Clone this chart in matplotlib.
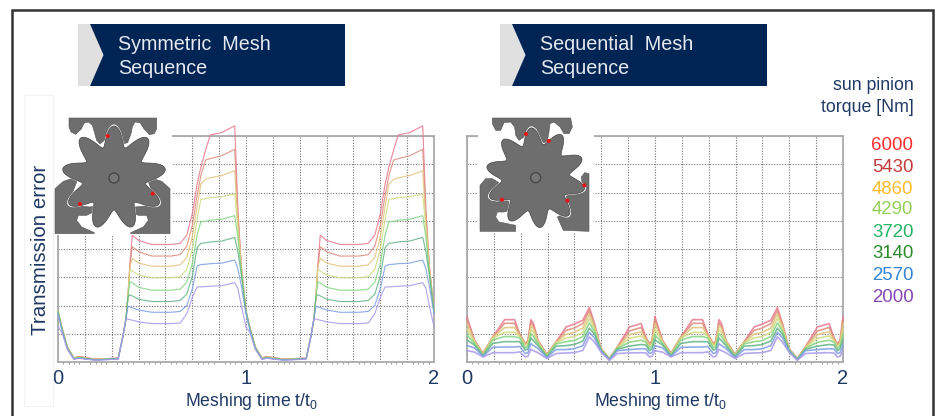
import numpy as np
import matplotlib
matplotlib.use('Agg')
import matplotlib.pyplot as plt
from matplotlib.patches import Polygon, Circle, Rectangle

plt.rcParams['font.family'] = ['Liberation Sans', 'DejaVu Sans']
plt.rcParams['mathtext.fontset'] = 'custom'
plt.rcParams['mathtext.rm'] = 'Liberation Sans'
plt.rcParams['mathtext.default'] = 'regular'

torque_labels = ['6000', '5430', '4860', '4290', '3720', '3140', '2570', '2000']
label_colors = ['#ff2b2b', '#c23a3a', '#ffb92a', '#93cf58', '#25b565', '#2a8c2a', '#3384d2', '#8446b4']
line_colors = ['#e8798f', '#dc8c7c', '#e2c47c', '#cfdc80', '#84d484', '#64b488', '#7f9fe2', '#a998ea']

# one period of the symmetric mesh, the second period repeats it
t_sym = [0, .02, .05, .085, .11, .2, .32, .345, .362, .372, .382, .395, .43, .50, .60, .65, .685,
         .715, .74, .76, .785, .81, .87, .94, .957, .975, 1.0]
sym_6000 = [1.80, 1.24, .53, .15, .20, .10, .14, .90, 1.55, 2.30, 3.40, 4.49, 4.30, 4.16, 4.16, 4.20, 4.49,
            5.26, 6.30, 6.90, 7.50, 8.04, 8.12, 8.36, 5.40, 3.40, 1.80]
sym_5430 = [1.80, 1.24, .53, .14, .19, .10, .14, .90, 1.55, 2.30, 3.40, 4.08, 3.90, 3.75, 3.75, 3.80, 4.10,
            4.85, 5.90, 6.60, 7.15, 7.20, 7.30, 7.53, 5.20, 3.40, 1.80]
sym_4860 = [1.80, 1.24, .53, .14, .18, .09, .13, .90, 1.55, 2.30, 3.40, 3.66, 3.50, 3.39, 3.39, 3.44, 3.70,
            4.45, 5.50, 6.30, 6.47, 6.52, 6.60, 6.77, 5.00, 3.35, 1.80]
sym_4290 = [1.80, 1.22, .52, .13, .17, .09, .13, .90, 1.55, 2.30, 3.27, 3.22, 3.08, 2.98, 2.98, 3.02, 3.28,
            4.00, 5.05, 5.76, 5.78, 5.82, 5.85, 5.95, 4.70, 3.30, 1.80]
sym_3720 = [1.80, 1.20, .50, .12, .16, .08, .12, .90, 1.55, 2.30, 2.84, 2.80, 2.64, 2.54, 2.54, 2.58, 2.82,
            3.50, 4.50, 4.96, 4.98, 5.02, 5.05, 5.18, 4.40, 3.20, 1.80]
sym_3140 = [1.78, 1.18, .48, .11, .15, .08, .12, .90, 1.55, 2.30, 2.38, 2.34, 2.22, 2.14, 2.14, 2.18, 2.40,
            3.05, 4.05, 4.20, 4.22, 4.25, 4.28, 4.41, 3.90, 3.10, 1.75]
sym_2570 = [1.72, 1.15, .46, .10, .14, .07, .11, .90, 1.55, 1.97, 1.95, 1.92, 1.84, 1.76, 1.76, 1.79, 2.00,
            2.60, 3.40, 3.45, 3.46, 3.48, 3.50, 3.61, 3.30, 2.70, 1.70]
sym_2000 = [1.25, 1.05, .44, .09, .13, .06, .10, .90, 1.54, 1.52, 1.50, 1.48, 1.42, 1.36, 1.36, 1.38, 1.71,
            2.30, 2.66, 2.66, 2.67, 2.68, 2.70, 2.81, 2.60, 2.00, 1.25]
sym_values = [sym_6000, sym_5430, sym_4860, sym_4290, sym_3720, sym_3140, sym_2570, sym_2000]

# one period of the sequential mesh
t_seq = [0, .04, .085, .138, .2, .253, .28, .31, .324, .34, .354, .377, .425, .474, .527, .57, .616, .651,
         .678, .713, .757, .80, .864, .926, .952, .97, .984, 1.0]
seq_6000 = [1.60, .77, .30, .89, 1.50, 1.50, 1.00, .65, .75, 1.50, 1.36, .77, .27, .71, 1.24, 1.34, 1.48, 1.93,
            1.36, .47, .12, .53, 1.24, 1.36, .86, .65, .75, 1.60]
seq_5430 = [1.50, .75, .30, .89, 1.37, 1.37, .98, .65, .72, 1.40, 1.27, .75, .27, .71, 1.12, 1.20, 1.36, 1.82,
            1.30, .47, .12, .53, 1.10, 1.22, .84, .62, .72, 1.50]
seq_4860 = [1.35, .73, .28, .87, 1.22, 1.22, .95, .62, .68, 1.28, 1.18, .73, .25, .70, .98, 1.05, 1.20, 1.70,
            1.25, .46, .12, .52, .97, 1.07, .80, .60, .68, 1.35]
seq_4290 = [1.15, .70, .26, .85, 1.05, 1.05, .92, .58, .62, 1.15, 1.05, .70, .23, .68, .85, .90, 1.05, 1.55,
            1.18, .45, .11, .50, .84, .92, .76, .55, .62, 1.15]
seq_3720 = [.95, .66, .24, .78, .90, .90, .85, .50, .55, 1.00, .90, .65, .21, .64, .72, .76, .90, 1.38,
            1.08, .43, .10, .48, .70, .77, .70, .48, .55, .95]
seq_3140 = [.78, .60, .22, .66, .72, .72, .72, .42, .46, .85, .75, .58, .19, .56, .58, .62, .74, 1.20,
            .98, .41, .09, .45, .56, .62, .60, .40, .46, .78]
seq_2570 = [.58, .50, .20, .52, .53, .53, .55, .30, .33, .65, .58, .48, .16, .44, .44, .47, .58, 1.05,
            .85, .38, .08, .40, .44, .47, .46, .30, .33, .58]
seq_2000 = [.40, .35, .18, .33, .33, .33, .36, .18, .20, .45, .40, .33, .12, .30, .32, .33, .41, .89,
            .70, .35, .06, .30, .32, .33, .32, .18, .20, .40]
seq_values = [seq_6000, seq_5430, seq_4860, seq_4290, seq_3720, seq_3140, seq_2570, seq_2000]

W, H = 936, 416
NAVY = '#002454'
TEXT = '#1f3864'
GEAR = '#6e6e6e'

# outlines of the gear drawings, traced in the 3x crops of the insets
sym_top_seg = [(42, 18), (305, 18), (305, 50), (298, 65), (283, 68), (268, 52), (255, 32), (240, 30), (232, 45),
               (228, 65), (218, 92), (205, 95), (195, 80), (190, 60), (180, 48), (165, 48), (155, 62), (148, 85),
               (135, 96), (125, 85), (118, 60), (112, 40), (100, 30), (88, 33), (78, 52), (62, 67), (48, 60), (42, 45)]
sym_left_seg = [(0, 365), (0, 230), (25, 208), (55, 198), (65, 210), (55, 235), (45, 260), (50, 275), (75, 282),
                (105, 285), (122, 282), (115, 300), (95, 310), (70, 310), (65, 325), (80, 345), (118, 362), (118, 365)]
seq_top_seg = [(55, 18), (290, 18), (295, 45), (285, 65), (270, 65), (258, 45), (240, 30), (228, 35), (225, 60),
               (220, 88), (205, 100), (195, 90), (192, 70), (188, 50), (170, 42), (158, 55), (150, 75), (135, 85),
               (125, 70), (122, 45), (110, 30), (90, 32), (80, 55), (65, 55), (55, 35)]
seq_left_seg = [(18, 358), (18, 220), (35, 200), (55, 200), (75, 212), (85, 225), (65, 235), (50, 250), (48, 265),
                (70, 270), (100, 262), (115, 280), (110, 295), (90, 300), (70, 300), (65, 315), (75, 330), (125, 340),
                (125, 358)]
seq_right_seg = [(345, 358), (345, 185), (332, 182), (322, 195), (325, 220), (300, 235), (280, 240), (270, 255),
                 (285, 275), (290, 295), (270, 305), (250, 315), (268, 355)]


def panel(left, right, t, values, lw):
    ax = fig.add_axes([left / W, 1 - 362 / H, (right - left) / W, (362 - 136) / H])
    for vals, col in zip(values, line_colors):
        for period in (0, 1):
            ax.plot(np.array(t) + period, vals, color=col, lw=lw, alpha=0.85, clip_on=False, zorder=3,
                    solid_joinstyle='round')
    ax.set_xlim(0, 2)
    ax.set_ylim(0, 8)
    ax.set_xticks(np.arange(15) / 7)
    ax.set_xticklabels(['0', '', '', '', '', '', '', '1', '', '', '', '', '', '', '2'],
                       fontsize=14.5, color=TEXT)
    ax.set_xticks(np.arange(71) / 35, minor=True)
    ax.set_yticks(range(9))
    ax.set_yticklabels([])
    ax.tick_params(axis='x', which='major', length=0, pad=5)
    ax.tick_params(axis='x', which='minor', length=1.5, color='#888888', width=0.6)
    ax.tick_params(axis='y', length=0)
    ax.grid(True, which='major', color='#777777', lw=0.8, ls=(0, (1, 1.4)))
    ax.set_axisbelow(True)
    for s in ax.spines.values():
        s.set_color('#aaaaaa')
        s.set_linewidth(1.3)
    return ax


def banner(x0, x1, lines):
    ov.add_patch(Polygon([(x0, 24), (x0 + 12, 24), (x0 + 25.5, 55), (x0 + 12, 86), (x0, 86)], fc='#e0e0e0', ec='none'))
    ov.add_patch(Polygon([(x0 + 12, 24), (x1, 24), (x1, 86), (x0 + 12, 86), (x0 + 25.5, 55)], fc=NAVY, ec='none'))
    for line, y in zip(lines, (45, 69)):
        ov.text(x0 + 40, y, line, color='#e6e9ef', fontsize=14.2, va='center', ha='left')


def gear(cx, cy, n, phase, tip, root):
    th = np.linspace(0, 2 * np.pi, 721)
    wave = (1 + np.cos(n * (th - np.radians(phase)))) / 2
    r = root + (tip - root) * wave ** 0.9
    # thin white gap so the teeth stay readable against the ring segments
    ov.add_patch(Polygon(np.c_[cx + (r + 1.5) * np.cos(th), cy - (r + 1.5) * np.sin(th)], fc='white', ec='none'))
    ov.add_patch(Polygon(np.c_[cx + r * np.cos(th), cy - r * np.sin(th)], fc=GEAR, ec='#444444', lw=0.5))
    ov.add_patch(Circle((cx, cy), 5, fc='#777777', ec='#444444', lw=0.9))


def segment(pts, x0, y0):
    # crop coordinates are 3x, starting at (x0, y0)
    pts = [(x0 + x / 3, y0 + y / 3) for x, y in pts]
    ov.add_patch(Polygon(pts, fc=GEAR, ec='#555555', lw=0.4))


def red_dots(pts):
    for x, y in pts:
        ov.add_patch(Circle((x, y), 2, fc='#ee1111', ec='none', zorder=6))


def inset_symmetric():
    ov.add_patch(Rectangle((57, 116), 115, 119, fc='white', ec='none'))
    segment(sym_top_seg, 55, 112)
    segment(sym_left_seg, 55, 112)
    segment([(345 - x, y) for x, y in sym_left_seg], 55, 112)
    gear(114, 178, 9, 90, 52, 32)
    red_dots([(107.7, 136), (152.7, 193.7), (80, 204)])


def inset_sequential():
    ov.add_patch(Rectangle((478, 116), 116, 117, fc='white', ec='none'))
    segment(seq_top_seg, 474, 112)
    segment(seq_left_seg, 474, 112)
    segment(seq_right_seg, 474, 112)
    gear(535.7, 177.7, 10, 23, 50, 34)
    red_dots([(526, 134), (548.7, 141), (584.3, 185.3), (567.3, 200.7), (502, 199.7)])


fig = plt.figure(figsize=(W / 100, H / 100), dpi=100, facecolor='white')

panel(58, 434, t_sym, sym_values, 0.85)
panel(467, 843, t_seq, seq_values, 1.2)

# everything else is placed in pixel coordinates on a see-through overlay
ov = fig.add_axes([0, 0, 1, 1], facecolor='none')
ov.set_xlim(0, W)
ov.set_ylim(H, 0)
ov.axis('off')

# outer frame, open at the bottom
ov.plot([12, 12, 932.5, 932.5], [H, 9.5, 9.5, H], color='#333333', lw=1.8, solid_joinstyle='miter')
ov.add_patch(Rectangle((24, 95), 29, 311, fc='none', ec='#f3f3f3', lw=0.8))

banner(78, 345, ['Symmetric  Mesh', 'Sequence'])
banner(500, 767, ['Sequential  Mesh', 'Sequence'])

ov.text(41, 250, 'Transmission error', rotation=90, color=TEXT, fontsize=14.8, ha='center', va='center')
ov.text(251.5, 401, 'Meshing time t/t$_0$', color=TEXT, fontsize=12.7, ha='center', va='center')
ov.text(660, 401, 'Meshing time t/t$_0$', color=TEXT, fontsize=12.7, ha='center', va='center')

ov.text(914, 85, 'sun pinion', color=TEXT, fontsize=12.8, ha='right', va='center')
ov.text(914, 107, 'torque [Nm]', color=TEXT, fontsize=12.8, ha='right', va='center')
legend_y = [146, 168, 189, 210, 232.5, 253, 276, 297]
for lab, col, y in zip(torque_labels, label_colors, legend_y):
    ov.text(913.5, y, lab, color=col, fontsize=13.4, ha='right', va='center')

inset_symmetric()
inset_sequential()

fig.savefig('out.png', dpi=100)
